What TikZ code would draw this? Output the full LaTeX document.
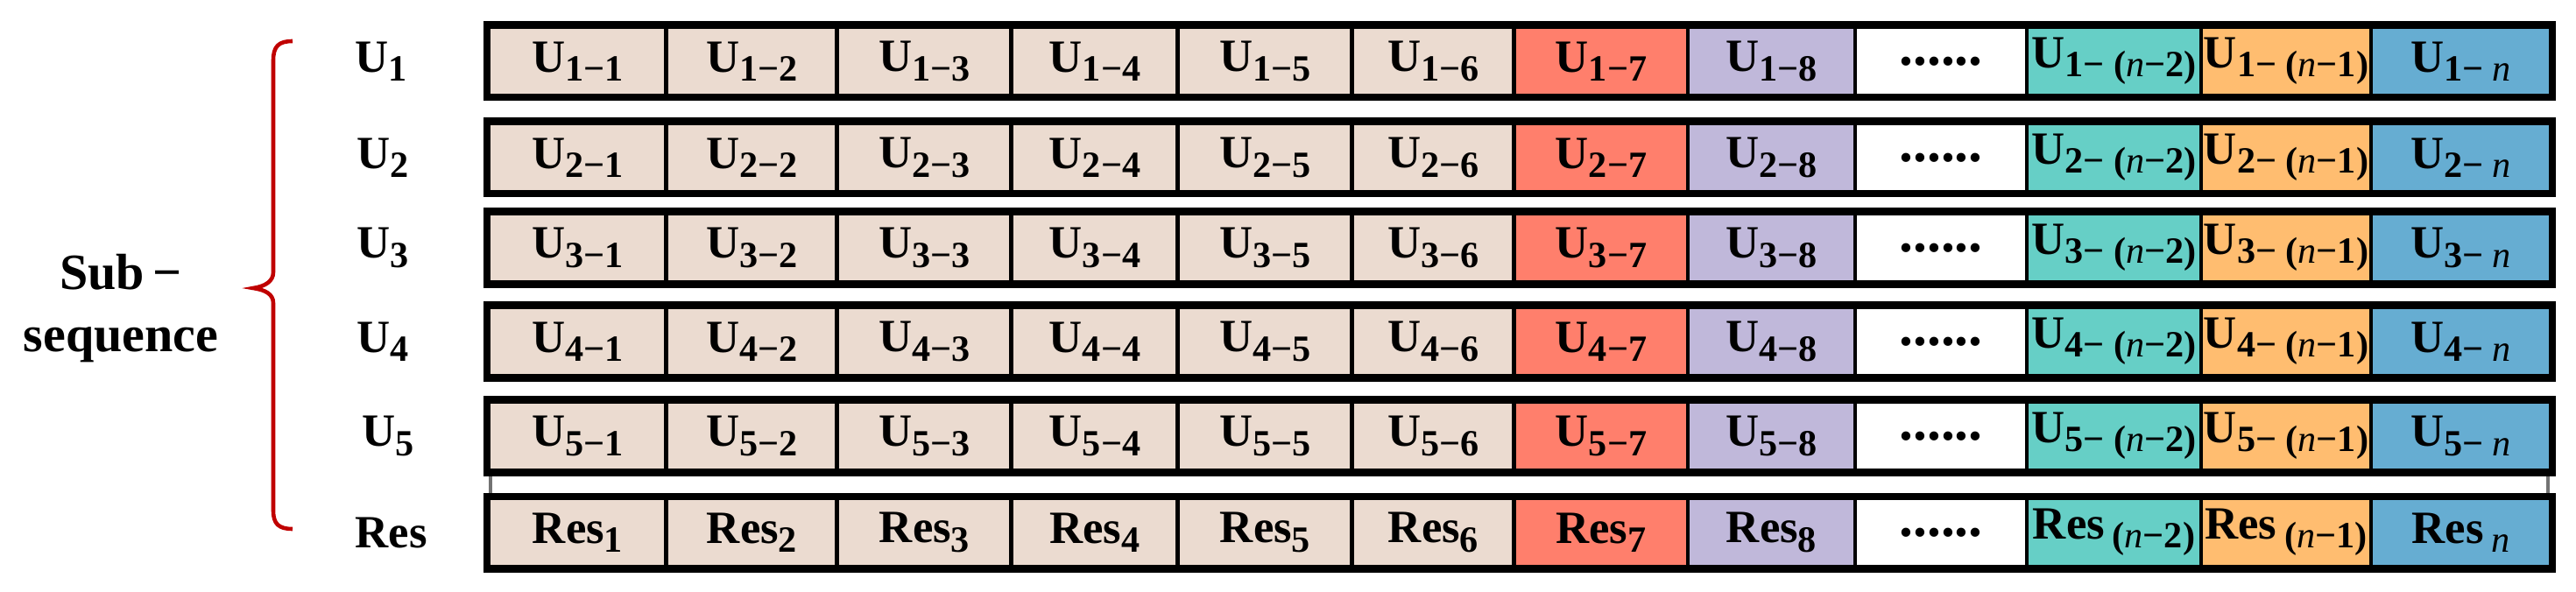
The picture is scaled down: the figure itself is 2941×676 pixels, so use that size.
\documentclass[tikz,border=0pt]{standalone}
\usepackage{fontspec}
\setmainfont{Liberation Serif}
\definecolor{cbeige}{HTML}{EBDBD0}
\definecolor{csalmon}{HTML}{FF7F6C}
\definecolor{clav}{HTML}{C0B8DA}
\definecolor{cteal}{HTML}{66CFC6}
\definecolor{corange}{HTML}{FFBD70}
\definecolor{cblue}{HTML}{66ADD2}
\definecolor{cbrace}{HTML}{C00000}
\newcommand{\sbx}[1]{\raisebox{-2.9pt}{\fontsize{12}{13}\selectfont #1}}
\newcommand{\nn}{{\mdseries\itshape n}}
\newcommand{\cellfont}{\fontsize{15}{18}\selectfont\bfseries}
\newcommand{\celldots}{\raisebox{-3pt}{\fontsize{18}{18}\selectfont ......}}
\newcommand{\utext}[2]{\ifnum#2<9 U\sbx{#1−#2}\else\ifnum#2=9 \celldots\else\ifnum#2=10 U\sbx{#1− (\nn−2)}\else\ifnum#2=11 U\sbx{#1− (\nn−1)}\else U\sbx{#1− \nn}\fi\fi\fi\fi}
\newcommand{\rtext}[1]{\ifnum#1<9 Res\sbx{#1}\else\ifnum#1=9 \celldots\else\ifnum#1=10 Res\,\sbx{(\nn−2)}\else\ifnum#1=11 Res\,\sbx{(\nn−1)}\else Res\,\sbx{\nn}\fi\fi\fi\fi}
\begin{document}
\begin{tikzpicture}[x=0.01cm,y=-0.01cm,
  cell/.style={draw=black, line width=1.4pt, minimum height=0.79cm, inner sep=0pt, font=\cellfont},
  rowframe/.style={draw=black, line width=2pt},
  rowlab/.style={anchor=west, inner sep=0pt, font=\cellfont},
  strip/.style={draw=black!55, line width=1pt, fill=white},
  bracepath/.style={draw=cbrace, line width=1.3pt},
  sublab/.style={align=center, inner sep=0pt, font=\fontsize{16.5}{20}\selectfont\bfseries}]
\useasboundingbox (0,0) rectangle (2941,676);

% strip between row 5 and Res row
\draw[strip] (560,540) rectangle (2909,567);

\def\cols{1/cbeige/558/761,2/cbeige/761/956,3/cbeige/956/1155,4/cbeige/1155/1345,5/cbeige/1345/1544,6/cbeige/1544/1729,7/csalmon/1729/1927,8/clav/1927/2118,9/white/2118/2314,10/cteal/2314/2513,11/corange/2513/2707,12/cblue/2707/2912}

% U rows
\foreach \r/\yt in {1/30.5,2/140.5,3/243.5,4/350.5,5/458.5}{
  \pgfmathsetmacro{\yc}{\yt+39.5}
  \foreach \c/\col/\xl/\xr in \cols{
    \pgfmathsetmacro{\xc}{(\xl+\xr)/2}
    \pgfmathsetmacro{\w}{(\xr-\xl)/100}
    \node[cell, fill=\col, minimum width=\w cm] (c\r-\c) at (\xc,\yc) {\utext{\r}{\c}};
  }
  \draw[rowframe] (c\r-1.north west) rectangle (c\r-12.south east);
}
\node[rowlab] (l1) at (405,70) {U\sbx{1}};
\node[rowlab] (l2) at (407,180) {U\sbx{2}};
\node[rowlab] (l3) at (407,283) {U\sbx{3}};
\node[rowlab] (l4) at (407,390) {U\sbx{4}};
\node[rowlab] (l5) at (413,498) {U\sbx{5}};

% Res row
\foreach \c/\col/\xl/\xr in \cols{
  \pgfmathsetmacro{\xc}{(\xl+\xr)/2}
  \pgfmathsetmacro{\w}{(\xr-\xl)/100}
  \node[cell, fill=\col, minimum width=\w cm] (cR-\c) at (\xc,608) {\rtext{\c}};
}
\draw[rowframe] (cR-1.north west) rectangle (cR-12.south east);
\node[rowlab] (lR) at (405,608) {Res};

% brace
\draw[bracepath] (334,47) .. controls (318,47) and (312,53) .. (312,69) -- (312,311)
  .. controls (312,321) and (303,327) .. (289,329)
  .. controls (303,331) and (312,336) .. (312,346) -- (312,583)
  .. controls (312,598) and (318,604) .. (334,604);

\node[sublab] (sub) at (138,352) {Sub\,−\\sequence};
\end{tikzpicture}
\end{document}
